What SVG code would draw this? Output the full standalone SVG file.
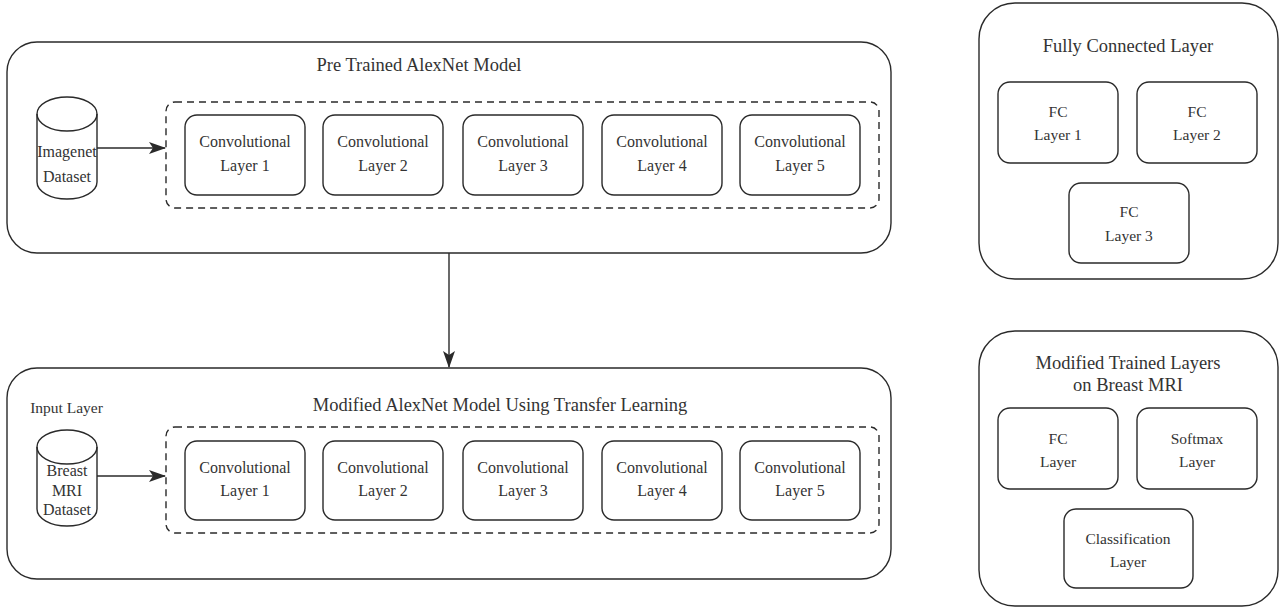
<svg xmlns="http://www.w3.org/2000/svg" width="1283" height="608" viewBox="0 0 1283 608">
<style>
.box{fill:#fff;stroke:#2a2a2a;stroke-width:1.4}
.dash{fill:none;stroke:#2a2a2a;stroke-width:1.4;stroke-dasharray:7 5}
.node{fill:#fff;stroke:#2a2a2a;stroke-width:1.4}
.t{font-family:"Liberation Serif",serif;font-size:15.5px;fill:#333;text-anchor:middle}
.c{font-size:16px}
.h{font-size:18.5px}
.line{fill:none;stroke:#2a2a2a;stroke-width:1.4}
</style>
<defs>
<marker id="ah" markerWidth="17" markerHeight="12" refX="16" refY="6" orient="auto" markerUnits="userSpaceOnUse">
<path d="M0,0 L17,6 L0,12 L4,6 Z" fill="#2a2a2a"/>
</marker>
</defs>
<g id="pretrained">
<rect class="box" x="7" y="42" width="884" height="211" rx="30"/>
<text class="t h" x="419" y="71">Pre Trained AlexNet Model</text>
<rect class="dash" x="166" y="102" width="713" height="106" rx="9"/>
</g>
<g id="imagenet">
<path class="node" d="M37,114 A30,17 0 0 1 97,114 L97,182 A30,17 0 0 1 37,182 Z"/>
<path class="line" d="M37,114 A30,17 0 0 0 97,114"/>
<text class="t c" x="67" y="157">Imagenet</text>
<text class="t c" x="67" y="182">Dataset</text>
</g>
<g id="conv1a"><rect class="node" x="185" y="115" width="120" height="80" rx="12"/><text class="t c" x="245" y="147">Convolutional</text><text class="t c" x="245" y="171">Layer 1</text></g>
<g id="conv2a"><rect class="node" x="323" y="115" width="120" height="80" rx="12"/><text class="t c" x="383" y="147">Convolutional</text><text class="t c" x="383" y="171">Layer 2</text></g>
<g id="conv3a"><rect class="node" x="463" y="115" width="120" height="80" rx="12"/><text class="t c" x="523" y="147">Convolutional</text><text class="t c" x="523" y="171">Layer 3</text></g>
<g id="conv4a"><rect class="node" x="602" y="115" width="120" height="80" rx="12"/><text class="t c" x="662" y="147">Convolutional</text><text class="t c" x="662" y="171">Layer 4</text></g>
<g id="conv5a"><rect class="node" x="740" y="115" width="120" height="80" rx="12"/><text class="t c" x="800" y="147">Convolutional</text><text class="t c" x="800" y="171">Layer 5</text></g>

<g id="modified">
<rect class="box" x="7" y="368" width="884" height="211" rx="30"/>
<text class="t h" x="500" y="411">Modified AlexNet Model Using Transfer Learning</text>
<text class="t" x="66.5" y="413">Input Layer</text>
<rect class="dash" x="166" y="427" width="713" height="106" rx="9"/>
</g>
<g id="breastmri">
<path class="node" d="M37,447 A30,17 0 0 1 97,447 L97,509 A30,17 0 0 1 37,509 Z"/>
<path class="line" d="M37,447 A30,17 0 0 0 97,447"/>
<text class="t c" x="67" y="476">Breast</text>
<text class="t c" x="67" y="496">MRI</text>
<text class="t c" x="67" y="515">Dataset</text>
</g>
<g id="conv1b"><rect class="node" x="185" y="441" width="120" height="79" rx="12"/><text class="t c" x="245" y="473">Convolutional</text><text class="t c" x="245" y="496">Layer 1</text></g>
<g id="conv2b"><rect class="node" x="323" y="441" width="120" height="79" rx="12"/><text class="t c" x="383" y="473">Convolutional</text><text class="t c" x="383" y="496">Layer 2</text></g>
<g id="conv3b"><rect class="node" x="463" y="441" width="120" height="79" rx="12"/><text class="t c" x="523" y="473">Convolutional</text><text class="t c" x="523" y="496">Layer 3</text></g>
<g id="conv4b"><rect class="node" x="602" y="441" width="120" height="79" rx="12"/><text class="t c" x="662" y="473">Convolutional</text><text class="t c" x="662" y="496">Layer 4</text></g>
<g id="conv5b"><rect class="node" x="740" y="441" width="120" height="79" rx="12"/><text class="t c" x="800" y="473">Convolutional</text><text class="t c" x="800" y="496">Layer 5</text></g>

<g id="fullyconnected">
<rect class="box" x="979" y="3" width="299" height="276" rx="36"/>
<text class="t h" x="1128" y="52">Fully Connected Layer</text>
</g>
<g id="fc1"><rect class="node" x="998" y="82" width="120" height="81" rx="12"/><text class="t" x="1058" y="117">FC</text><text class="t" x="1058" y="140">Layer 1</text></g>
<g id="fc2"><rect class="node" x="1137" y="82" width="120" height="81" rx="12"/><text class="t" x="1197" y="117">FC</text><text class="t" x="1197" y="140">Layer 2</text></g>
<g id="fc3"><rect class="node" x="1069" y="183" width="120" height="80" rx="12"/><text class="t" x="1129" y="217">FC</text><text class="t" x="1129" y="241">Layer 3</text></g>

<g id="modifiedtrained">
<rect class="box" x="979" y="331" width="299" height="275" rx="36"/>
<text class="t h" x="1128" y="369">Modified Trained Layers</text>
<text class="t h" x="1128" y="391">on Breast MRI</text>
</g>
<g id="fclayer"><rect class="node" x="998" y="408" width="120" height="81" rx="12"/><text class="t" x="1058" y="444">FC</text><text class="t" x="1058" y="467">Layer</text></g>
<g id="softmax"><rect class="node" x="1137" y="408" width="120" height="81" rx="12"/><text class="t" x="1197" y="444">Softmax</text><text class="t" x="1197" y="467">Layer</text></g>
<g id="classification"><rect class="node" x="1064" y="509" width="129" height="79" rx="12"/><text class="t" x="1128" y="544">Classification</text><text class="t" x="1128" y="567">Layer</text></g>

<g id="connectors">
<line class="line" x1="97" y1="148" x2="165" y2="148" marker-end="url(#ah)"/>
<line class="line" x1="97" y1="476" x2="165" y2="476" marker-end="url(#ah)"/>
<line class="line" x1="449" y1="253" x2="449" y2="367" marker-end="url(#ah)"/>
</g>
</svg>
